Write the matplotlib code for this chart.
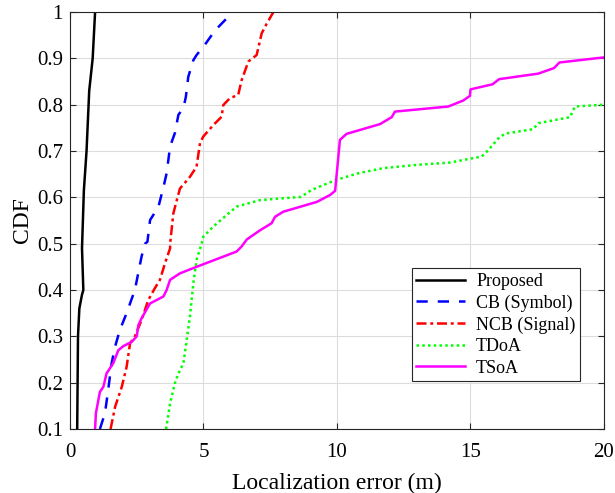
import matplotlib.pyplot as plt

# CDF curves (x = error in m, y = CDF)
prop_x = [0.27, 0.30, 0.35, 0.45, 0.50, 0.45, 0.52, 0.62, 0.72, 0.85, 0.94]
prop_y = [0.10, 0.30, 0.36, 0.39, 0.40, 0.49, 0.615, 0.70, 0.83, 0.90, 1.00]

cb_x = [1.12, 1.31, 1.43, 1.56, 1.69, 1.87, 2.12, 2.43, 2.68, 2.81, 2.90, 3.00, 3.31, 3.50,
        3.62, 3.75, 3.93, 4.06, 4.25, 4.34, 4.43, 4.62, 4.74, 5.06, 5.43, 6.10]
cb_y = [0.10, 0.134, 0.184, 0.242, 0.278, 0.314, 0.35, 0.40, 0.472, 0.50, 0.504, 0.551, 0.579, 0.622,
        0.652, 0.71, 0.739, 0.778, 0.793, 0.817, 0.86, 0.896, 0.907, 0.93, 0.96, 1.00]

ncb_x = [1.52, 1.69, 1.94, 2.12, 2.25, 2.43, 2.68, 2.93, 3.18, 3.37, 3.56, 3.75, 3.75, 3.87,
         4.00, 4.12, 4.49, 4.74, 4.87, 4.99, 5.37, 5.68, 5.74, 5.99, 6.30, 6.43, 6.68, 6.99,
         7.18, 7.37, 7.62]
ncb_y = [0.10, 0.148, 0.191, 0.234, 0.285, 0.30, 0.335, 0.378, 0.404, 0.422, 0.458, 0.49, 0.50, 0.565,
         0.594, 0.619, 0.644, 0.666, 0.717, 0.731, 0.756, 0.774, 0.799, 0.814, 0.821, 0.853, 0.893, 0.907,
         0.954, 0.975, 1.00]

tdoa_x = [3.60, 3.75, 3.93, 4.06, 4.25, 4.37, 4.49, 4.62, 4.74, 4.93, 4.99, 5.37, 5.87, 6.24,
          7.12, 8.65, 9.05, 9.93, 10.80, 11.73, 12.98, 14.23, 14.86, 15.42, 15.67, 16.10, 16.35,
          17.35, 17.54, 18.73, 18.91, 20.0]
tdoa_y = [0.10, 0.156, 0.199, 0.22, 0.242, 0.292, 0.342, 0.415, 0.465, 0.50, 0.515, 0.537, 0.562, 0.58,
          0.594, 0.601, 0.616, 0.637, 0.652, 0.663, 0.67, 0.675, 0.682, 0.688, 0.702, 0.731, 0.738,
          0.747, 0.76, 0.773, 0.796, 0.80]

tsoa_x = [0.94, 0.97, 1.12, 1.25, 1.37, 1.62, 1.81, 2.00, 2.31, 2.50, 2.56, 2.68, 3.00, 3.50,
          3.62, 3.75, 4.12, 4.74, 5.24, 6.24, 6.43, 6.62, 7.12, 7.55, 7.68, 7.99, 9.24, 9.74,
          9.93, 10.11, 10.36, 11.61, 12.05, 12.17, 14.17, 14.73, 14.98, 15.0, 15.83, 16.07,
          17.54, 18.13, 18.33, 20.0]
tsoa_y = [0.10, 0.134, 0.18, 0.191, 0.22, 0.242, 0.27, 0.279, 0.288, 0.30, 0.324, 0.339, 0.371, 0.386,
          0.40, 0.422, 0.436, 0.45, 0.461, 0.483, 0.494, 0.509, 0.529, 0.544, 0.558, 0.569, 0.59, 0.605,
          0.614, 0.724, 0.737, 0.758, 0.773, 0.785, 0.796, 0.809, 0.819, 0.833, 0.844, 0.855,
          0.867, 0.879, 0.891, 0.902]

plt.rcParams['font.family'] = ['Liberation Serif', 'DejaVu Serif']

fig = plt.figure(figsize=(6.15, 4.93), dpi=100)
ax = fig.add_axes([0.1138, 0.1298, 0.8683, 0.8459])

ax.plot(prop_x, prop_y, color='black', lw=1.8, ls='-', label='Proposed')
ax.plot(cb_x, cb_y, color='blue', lw=1.8, ls=(0, (4.5, 4)), label='CB (Symbol)')
ax.plot(ncb_x, ncb_y, color='red', lw=1.8, ls=(0, (4, 1.5, 1.2, 1.5)), label='NCB (Signal)')
ax.plot(tdoa_x, tdoa_y, color='#00ff00', lw=1.8, ls=(0, (1, 1.3)), label='TDoA')
ax.plot(tsoa_x, tsoa_y, color='magenta', lw=1.8, ls='-', label='TSoA')

ax.set_xlim(0, 20)
ax.set_ylim(0.1, 1)
ax.set_xticks([0, 5, 10, 15, 20])
ax.set_yticks([0.1, 0.2, 0.3, 0.4, 0.5, 0.6, 0.7, 0.8, 0.9, 1])
ax.set_yticklabels(['0.1', '0.2', '0.3', '0.4', '0.5', '0.6', '0.7', '0.8', '0.9', '1'])
ax.grid(True, color='#dcdcdc', lw=0.8)
ax.set_axisbelow(True)
ax.tick_params(direction='in', top=True, right=True, labelsize=15, length=4, color='#262626')
ax.tick_params(axis='x', pad=10)
ax.tick_params(axis='y', pad=5)
for s in ax.spines.values():
    s.set_color('#262626')
    s.set_linewidth(0.8)

ax.set_xlabel('Localization error (m)', fontsize=17, labelpad=8)
ax.set_ylabel('CDF', fontsize=17, labelpad=3)

leg = ax.legend(loc='lower right', bbox_to_anchor=(0.955, 0.115), fontsize=13,
                fancybox=False, edgecolor='#262626', framealpha=1,
                handlelength=2.7, labelspacing=0.25, borderpad=0.25, handletextpad=0.6,
                borderaxespad=0)
leg.get_frame().set_linewidth(0.8)

fig.savefig('out.png', dpi=100)
